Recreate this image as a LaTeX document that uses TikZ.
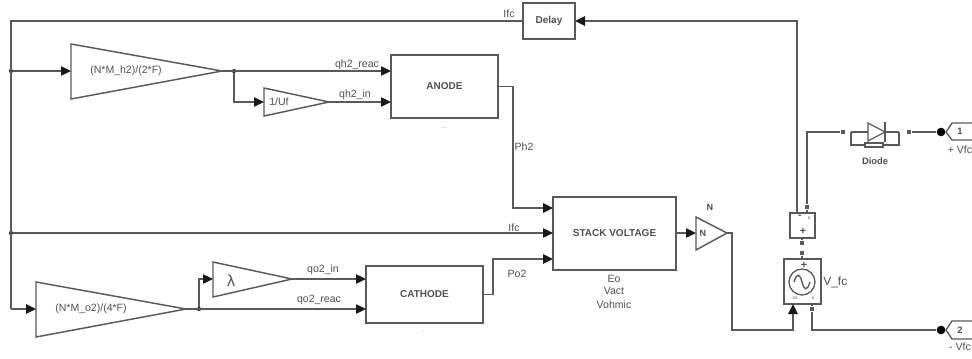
\documentclass[tikz,border=0pt]{standalone}
\usepackage{fontspec}
\setmainfont{Liberation Sans}
\usetikzlibrary{arrows.meta}
\definecolor{wirecol}{HTML}{5A5A5A}
\definecolor{txtcol}{HTML}{505050}
\newcommand{\pxu}[1]{#1*0.75pt}
\tikzset{
  x=0.75pt,y=-0.75pt,
  wire/.style={draw=wirecol,line width=1.15pt,line join=miter},
  thinwire/.style={draw=wirecol,line width=0.95pt},
  arrowwire/.style={wire,-{Triangle[length=7.5pt,width=7pt,color=black!90]}},
  blockbox/.style={draw=wirecol,line width=1.25pt,fill=white,inner sep=0pt,outer sep=0pt,text=txtcol,font=\fontsize{7.5pt}{8pt}\selectfont\bfseries},
  gainshape/.style={draw=wirecol,line width=1.1pt,fill=white,line join=miter},
  lbl/.style={inner sep=0pt,text=txtcol,font=\fontsize{7.9pt}{9pt}\selectfont},
  dot/.style={circle,fill=black!80,inner sep=0pt,minimum size=3.2pt},
  bigdot/.style={circle,fill=black,inner sep=0pt,minimum size=6.5pt},
  term/.style={rectangle,fill=wirecol,inner sep=0pt,minimum size=3.6pt},
  porthex/.style={draw=wirecol,line width=1pt,fill=white}
}
\begin{document}
\begin{tikzpicture}
\useasboundingbox (0,0) rectangle (972,358);
\fill[white] (0,0) rectangle (972,358);

% blocks
\node[blockbox,minimum width=\pxu{52},minimum height=\pxu{36}] (delay) at (549,21) {Delay};
\node[blockbox,minimum width=\pxu{107},minimum height=\pxu{63}] (anode) at (444.5,86.5) {ANODE};
\node[blockbox,minimum width=\pxu{123},minimum height=\pxu{73}] (stack) at (614.5,233.5) {STACK VOLTAGE};
\node[blockbox,minimum width=\pxu{117},minimum height=\pxu{57}] (cathode) at (424.5,294.5) {CATHODE};
\node[blockbox,minimum width=\pxu{25},minimum height=\pxu{25}] (sensor) at (802.5,225.5) {};
\node[blockbox,minimum width=\pxu{37},minimum height=\pxu{45}] (source) at (802.5,281.5) {};

% gain triangles
\coordinate (g1in) at (71,71); \coordinate (g1out) at (222,71);
\draw[gainshape] (71,44) -- (g1out) -- (71,99) -- cycle;
\coordinate (g2in) at (264,102); \coordinate (g2out) at (329,102);
\draw[gainshape] (264,88) -- (g2out) -- (264,116) -- cycle;
\coordinate (g3in) at (36,309); \coordinate (g3out) at (186,309);
\draw[gainshape] (36,282) -- (g3out) -- (36,337) -- cycle;
\coordinate (g4in) at (213,279); \coordinate (g4out) at (292,279);
\draw[gainshape] (213,262) -- (g4out) -- (213,297) -- cycle;
\coordinate (g5in) at (696,233); \coordinate (g5out) at (727,233);
\draw[gainshape] (696,217) -- (g5out) -- (696,250) -- cycle;

% junctions and free points
\coordinate (jtop) at (11,21);
\node[dot] (j1) at (11,71) {};
\node[dot] (j2) at (11,233) {};
\node[dot] (j3) at (234,71) {};
\node[dot] (j4) at (199,309) {};
\node[term] (tsenR) at (807,207) {};
\node[term] (tsenB) at (802,243) {};
\node[term] (tsrcT) at (802,253) {};
\node[term] (tsrcB) at (812,309) {};
\node[term] (tdL) at (843,132) {};
\node[term] (tdR) at (909,132) {};
\node[bigdot] (p1dot) at (941,132) {};
\node[bigdot] (p2dot) at (941,330) {};

% wires
\draw[wire] (delay.west) -- (jtop) -- (11,309) coordinate (jbot);
\draw[arrowwire] (jbot) -- (g3in);
\draw[arrowwire,thinwire] (j1) -- (g1in);
\draw[arrowwire,thinwire] (g1out) -- (anode.west |- g1out);
\draw[arrowwire,thinwire] (j3) |- (g2in);
\draw[arrowwire,thinwire] (g2out) -- (anode.west |- g2out);
\draw[arrowwire,thinwire] (j2) -- (stack.west |- j2);
\draw[arrowwire,thinwire] (g3out) -- (cathode.west |- g3out);
\draw[arrowwire,thinwire] (j4) |- (g4in);
\draw[arrowwire,thinwire] (g4out) -- (cathode.west |- g4out);
\draw[arrowwire] (anode.east) -- (513,86.5) |- (stack.west |- 0,208);
\draw[arrowwire] (cathode.east) -- (493,294.5) |- (stack.west |- 0,259);
\draw[arrowwire,thinwire] (stack.east |- g5in) -- (g5in);
\draw[arrowwire] (g5out) -- (732,233) |- (793,330) -- (793,304);
\draw[arrowwire] (797,213) -- (797,21) -- (delay.east);
\draw[wire] (tsenR) -- (807,132) -- (tdL);
\draw[wire] (tsenR) -- (807,213);
\draw[wire] (802,238) -- (tsenB);
\draw[wire] (tsrcT) -- (802,259);
\draw[wire] (tsrcB) -- (812,304);
\draw[wire] (tsrcB) |- (p2dot);
\draw[wire] (tdR) -- (p1dot);

% diode
\draw[wire,line width=0.9pt] (851,132) -- (868,132) (885,132) -- (899,132);
\draw[wire,line width=0.9pt] (851,132) -- (851,145) -- (865,145) (883,145) -- (899,145) -- (899,132);
\draw[gainshape,line width=0.9pt] (868,123) -- (885,132) -- (868,141) -- cycle;
\draw[wire,line width=0.9pt] (885,122) -- (885,142);
\draw[gainshape,line width=0.9pt] (865,143) rectangle (883,147);

% ports
\draw[porthex] (972,123) -- (952,123) -- (946,132) -- (952,140) -- (972,140);
\draw[porthex] (972,321) -- (952,321) -- (946,330) -- (952,339) -- (972,339);
\node[lbl,font=\fontsize{7pt}{8pt}\selectfont\bfseries] (p1num) at (960,131) {1};
\node[lbl,font=\fontsize{7pt}{8pt}\selectfont\bfseries] (p2num) at (960,330) {2};
\node[lbl] (p1lab) at (960,150) {+ Vfc};
\node[lbl] (p2lab) at (960,347) {- Vfc};
\node[lbl,font=\fontsize{7pt}{8pt}\selectfont\bfseries] (dlab) at (875,161) {Diode};

% source and sensor internals
\draw[wirecol,line width=1pt] (802,282) circle[radius=13];
\draw[wirecol,line width=1pt] (794,282) .. controls (797,272) and (800,274) .. (802,282) .. controls (804,290) and (807,292) .. (810,282);
\node[lbl,font=\fontsize{8pt}{8pt}\selectfont\bfseries] (srcplus) at (804,265) {+};
\node[lbl,font=\fontsize{3.5pt}{4pt}\selectfont] (srcs) at (795,298) {ss};
\node[lbl,font=\fontsize{3.5pt}{4pt}\selectfont] (srcm) at (813,298) {s};
\node[lbl,font=\fontsize{8pt}{8pt}\selectfont\bfseries] (senminus) at (800,217) {-};
\node[lbl,font=\fontsize{3.5pt}{4pt}\selectfont] (senv) at (809,218) {s};
\node[lbl,font=\fontsize{8pt}{8pt}\selectfont\bfseries] (senplus) at (803,231) {+};
\node[lbl,anchor=west,font=\fontsize{9pt}{9pt}\selectfont] (vfc) at (823,282) {V\_fc};

% labels
\node[lbl] (t1) at (126,71) {(N*M\_h2)/(2*F)};
\node[lbl] (t2) at (279,102) {1/Uf};
\node[lbl] (t3) at (91,309) {(N*M\_o2)/(4*F)};
\node[lbl,font=\fontsize{12pt}{12pt}\selectfont] (t4) at (231,281) {λ};
\node[lbl,font=\fontsize{6.8pt}{8pt}\selectfont\bfseries] (t5) at (703,233) {N};
\node[lbl,font=\fontsize{6.8pt}{8pt}\selectfont\bfseries] (t6) at (710,207) {N};
\node[lbl] (l1) at (357,65) {qh2\_reac};
\node[lbl] (l2) at (355,95) {qh2\_in};
\node[lbl] (l3) at (323,270) {qo2\_in};
\node[lbl] (l4) at (319,300) {qo2\_reac};
\node[lbl] (l5) at (509,14) {Ifc};
\node[lbl] (l6) at (514,228) {Ifc};
\node[lbl] (l7) at (524,147) {Ph2};
\node[lbl] (l8) at (517,274) {Po2};
\node[lbl] (l9) at (614,279) {Eo};
\node[lbl] (l10) at (614,291) {Vact};
\node[lbl] (l11) at (614,305) {Vohmic};
\node[lbl,text=black!35,font=\fontsize{6pt}{6pt}\selectfont] (m1) at (444,128) {..};
\node[lbl,text=black!35,font=\fontsize{6pt}{6pt}\selectfont] (m2) at (423,332) {.};
\end{tikzpicture}
\end{document}
